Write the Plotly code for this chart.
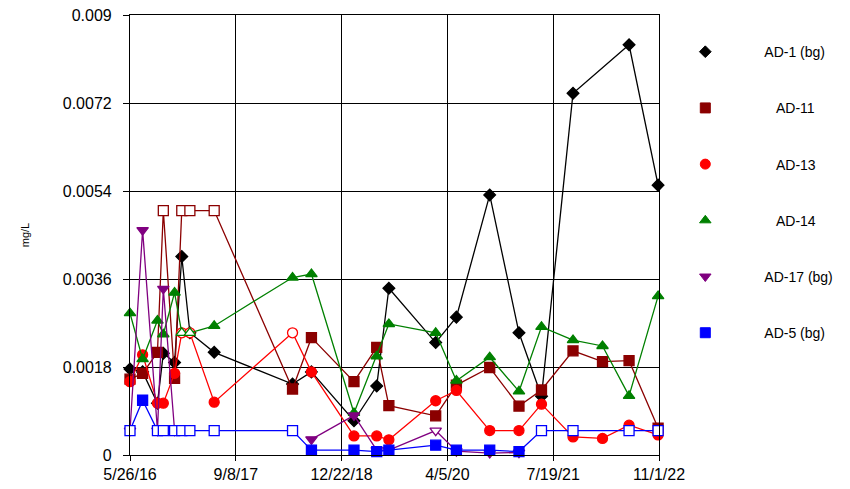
import plotly.graph_objects as go

dates = ["2016-05-26", "2016-07-21", "2016-09-25", "2016-10-21", "2016-12-10", "2017-01-11",
         "2017-02-16", "2017-06-04", "2018-05-18", "2018-08-10", "2019-02-15", "2019-05-27",
         "2019-07-20", "2020-02-13", "2020-05-15", "2020-10-10", "2021-02-17", "2021-05-28",
         "2021-10-15", "2022-02-23", "2022-06-21", "2022-10-28"]

ad1 = [0.00176, 0.0017, 0.00106, 0.00208, 0.00189, 0.00406, 0.0025, 0.0021, 0.00145, 0.0017,
       0.0007, 0.00141, 0.00341, 0.0023, 0.00282, 0.00532, 0.0025, 0.0012, 0.0074, None,
       0.00839, 0.00552]
ad1_nd = []

ad11 = [0.00155, 0.00167, 0.0021, 0.005, 0.00157, 0.005, 0.005, 0.005, 0.00135, 0.0024,
        0.0015, 0.0022, 0.00101, 0.0008, 0.00143, 0.00179, 0.001, 0.00133, 0.00213, 0.00191,
        0.00193, 0.00055]
ad11_nd = [3, 5, 6, 7]

ad13 = [0.0015, 0.00205, 0.00106, 0.00106, 0.00167, 0.0025, 0.0025, 0.00108, 0.0025, 0.0017,
        0.00039, 0.00039, 0.00031, 0.00111, 0.00132, 0.0005, 0.0005, 0.00104, 0.00037, 0.00034,
        0.00061, 0.00041]
ad13_nd = [5, 6, 8]

ad14 = [0.0029, 0.00196, 0.00275, 0.00247, 0.00332, 0.0025, 0.0025, 0.00264, 0.00363, 0.0037,
        0.00086, 0.00202, 0.00268, 0.0025, 0.00152, 0.002, 0.0013, 0.00262, 0.00235, 0.00223,
        0.00121, 0.00325]
ad14_nd = [5, 6]

ad17 = [0.0005, 0.0046, 0.0005, 0.0034, 0.0005, None, None, None, None, 0.00032,
        0.00081, 0.0001, 0.0001, 0.0005, 0.00008, 0.00004, 0.00005, None, None, None,
        None, None]
ad17_nd = [0, 2, 4, 13]

ad5 = [0.0005, 0.00112, 0.0005, 0.0005, 0.0005, 0.0005, 0.0005, 0.0005, 0.0005, 0.0001,
       0.0001, 0.00007, 0.0001, 0.0002, 0.0001, 0.0001, 0.00007, 0.0005, 0.0005, None,
       0.0005, 0.0005]
ad5_nd = [0, 2, 3, 4, 5, 6, 7, 8, 17, 18, 20, 21]

y_tickvals = [0, 0.0018, 0.0036, 0.0054, 0.0072, 0.009]
y_ticktext = ["0", "0.0018", "0.0036", "0.0054", "0.0072", "0.009"]
x_tickvals = ["2016-05-26", "2017-09-08", "2018-12-22", "2020-04-05", "2021-07-19", "2022-11-01"]
x_ticktext = ["5/26/16", "9/8/17", "12/22/18", "4/5/20", "7/19/21", "11/1/22"]

series = [
    ("AD-1 (bg)", ad1, ad1_nd, "#000000", "diamond", 9, True, "AD-1 (bg)"),
    ("AD-11", ad11, ad11_nd, "#8B0000", "square", 10, True, "\u00a0\u00a0\u00a0AD-11"),
    ("AD-13", ad13, ad13_nd, "#FF0000", "circle", 10, True, "\u00a0\u00a0\u00a0AD-13"),
    ("AD-14", ad14, ad14_nd, "#008000", "triangle-up", 10, True, "\u00a0\u00a0\u00a0AD-14"),
    ("AD-17 (bg)", ad17, ad17_nd, "#800080", "triangle-down", 10, False, "AD-17 (bg)"),
    ("AD-5 (bg)", ad5, ad5_nd, "#0000FF", "square", 10, True, "AD-5 (bg)"),
]

FONT = "Arial, Liberation Sans, sans-serif"
fig = go.Figure()
for i, (name, vals, nd, col, sym, sz, connect, label) in enumerate(series):
    fills = ["#FFFFFF" if k in nd else col for k in range(len(vals))]
    fig.add_trace(go.Scatter(
        x=dates, y=vals, mode="lines+markers", name=name, showlegend=False,
        connectgaps=connect, cliponaxis=False,
        line=dict(color=col, width=1.3),
        marker=dict(symbol=sym, size=sz, color=fills, line=dict(color=col, width=1.3)),
    ))
    fig.add_trace(go.Scatter(
        x=[None], y=[None], mode="markers", name=label, legendgroup="g%d" % i,
        marker=dict(symbol=sym, size=sz, color=col, line=dict(color=col, width=1)),
    ))

fig.update_layout(
    width=842, height=481,
    margin=dict(l=122, r=191, t=7, b=34, autoexpand=False),
    paper_bgcolor="white", plot_bgcolor="white",
    font=dict(family=FONT, color="black"),
    legend=dict(x=0.976, y=0.952, xanchor="left", yanchor="top", tracegroupgap=35,
                itemwidth=108, font=dict(size=14), bgcolor="rgba(0,0,0,0)"),
    showlegend=True,
)

fig.update_xaxes(
    type="date", range=["2016-05-26", "2022-11-01"],
    tickvals=x_tickvals, ticktext=x_ticktext,
    showgrid=True, gridcolor="black", gridwidth=1.2,
    showline=True, linecolor="black", linewidth=1.2, mirror=True,
    ticks="outside", ticklen=5, tickcolor="black", ticklabeloverflow="allow",
    tickfont=dict(size=16, family=FONT), zeroline=False,
)
fig.update_yaxes(
    range=[0, 0.009], tickvals=y_tickvals, ticktext=y_ticktext,
    showgrid=True, gridcolor="black", gridwidth=1.2,
    showline=True, linecolor="black", linewidth=1.2, mirror=True,
    ticks="outside", ticklen=6, tickcolor="black", ticklabelstandoff=8,
    ticklabeloverflow="allow",
    tickfont=dict(size=16, family=FONT), zeroline=False,
    title=dict(text="mg/L", font=dict(size=11, family=FONT), standoff=30),
)

fig.write_html("out.html")
